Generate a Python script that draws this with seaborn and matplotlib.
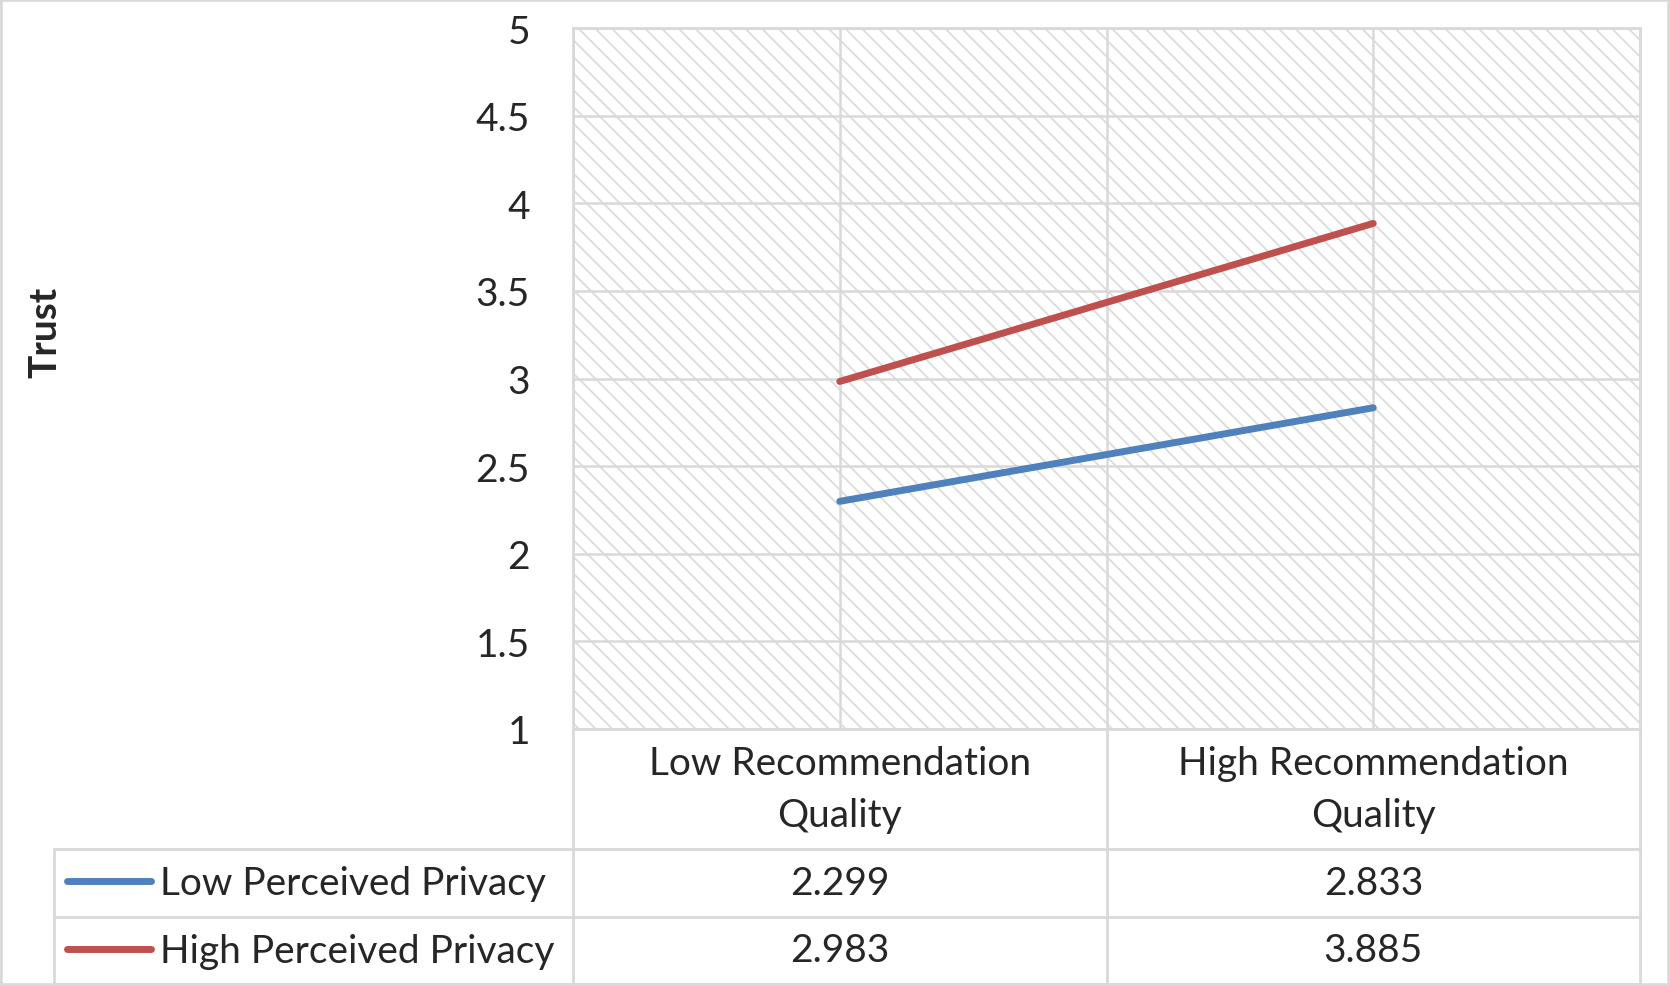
import matplotlib
matplotlib.use("Agg")
import matplotlib.pyplot as plt
import matplotlib.transforms as mtransforms
from matplotlib.patches import Rectangle
from matplotlib.lines import Line2D
import seaborn as sns
import pandas as pd

# data
categories = ["Low Recommendation\nQuality", "High Recommendation\nQuality"]
series = ["Low Perceived Privacy", "High Perceived Privacy"]
low_privacy = [2.299, 2.833]
high_privacy = [2.983, 3.885]
y_ticks = [1, 1.5, 2, 2.5, 3, 3.5, 4, 4.5, 5]
y_tick_labels = ["1", "1.5", "2", "2.5", "3", "3.5", "4", "4.5", "5"]
colors = ["#4F81BD", "#C0504D"]

sns.set_style("white")
plt.rcParams['font.family'] = ['Lato', 'DejaVu Sans']
plt.rcParams['hatch.linewidth'] = 1.3

W, H = 1670, 987
# layout in pixels (from top-left)
L, R, T, B = 573, 1640, 29, 730
ROW1, ROW2, ROW3 = 850, 918, 985
LEG_L = 54
grid_c = "#D9D9D9"
fs = 28

df = pd.DataFrame({
    "x": list(range(len(categories))) * 2,
    "y": low_privacy + high_privacy,
    "s": [series[0]] * len(categories) + [series[1]] * len(categories),
})

fig = plt.figure(figsize=(W / 100, H / 100), dpi=100)
ax = fig.add_axes([L / W, 1 - B / H, (R - L) / W, (B - T) / H])
ax.set_facecolor("none")

sns.lineplot(data=df, x="x", y="y", hue="s", palette=colors, sort=False,
             linewidth=5, legend=False, ax=ax, zorder=3)
for ln in ax.lines:
    ln.set_solid_capstyle("round")

# hatched plot area background
ax.add_patch(Rectangle((0, 0), 1, 1, transform=ax.transAxes, facecolor="white",
                       edgecolor="#DCDCDC", hatch="\\\\", linewidth=0, zorder=0))

ax.set_xlim(-0.5, len(categories) - 0.5)
ax.set_ylim(1, 5)
ax.set_xticks([-0.5, 0, 0.5, 1, 1.5])
ax.set_xticklabels([])
ax.set_yticks(y_ticks)
ax.set_yticklabels(y_tick_labels, fontsize=fs)
ax.tick_params(axis="both", length=0)
ax.tick_params(axis="y", pad=31)
ax.set_xlabel("")
ax.set_ylabel("")
ax.grid(True, color=grid_c, linewidth=1.8)
ax.set_axisbelow(True)
for sp in ax.spines.values():
    sp.set_color(grid_c)
    sp.set_linewidth(2)

fig.text(45 / W, 1 - 332 / H, "Trust", rotation=90, fontsize=fs, fontweight="bold",
         ha="center", va="center")

# data table below the plot
pix = mtransforms.Affine2D().scale(1 / W, -1 / H).translate(0, 1) + fig.transFigure
tab = mtransforms.blended_transform_factory(ax.transData, pix)

def hline(x0, x1, y, tr):
    fig.add_artist(Line2D([x0, x1], [y, y], transform=tr, color=grid_c, lw=2))

def vline(x, y0, y1, tr):
    fig.add_artist(Line2D([x, x], [y0, y1], transform=tr, color=grid_c, lw=2))

hline(LEG_L, R, ROW1, pix)
hline(LEG_L, R, ROW2, pix)
hline(LEG_L, R, ROW3, pix)
vline(LEG_L, ROW1, ROW3, pix)
for xb in [-0.5, 0.5, 1.5]:
    vline(xb, B, ROW3, tab)

for i, cat in enumerate(categories):
    fig.text(i, (B + ROW1) / 2, cat, transform=tab, fontsize=fs, ha="center",
             va="center", linespacing=1.55)

rows = [(ROW1 + ROW2) / 2, (ROW2 + ROW3) / 2]
for vals, name, c, yc in zip([low_privacy, high_privacy], series, colors, rows):
    fig.add_artist(Line2D([67, 151], [yc - 2, yc - 2], transform=pix, color=c,
                          lw=5, solid_capstyle="round"))
    fig.text(160, yc, name, transform=pix, fontsize=fs, ha="left", va="center")
    for i, v in enumerate(vals):
        fig.text(i, yc, f"{v:.3f}", transform=tab, fontsize=fs, ha="center", va="center")

# outer chart frame
fig.add_artist(Rectangle((0, 0), 1, 1, transform=fig.transFigure, fill=False,
                         edgecolor=grid_c, linewidth=4))

fig.savefig("out.png", dpi=100)
